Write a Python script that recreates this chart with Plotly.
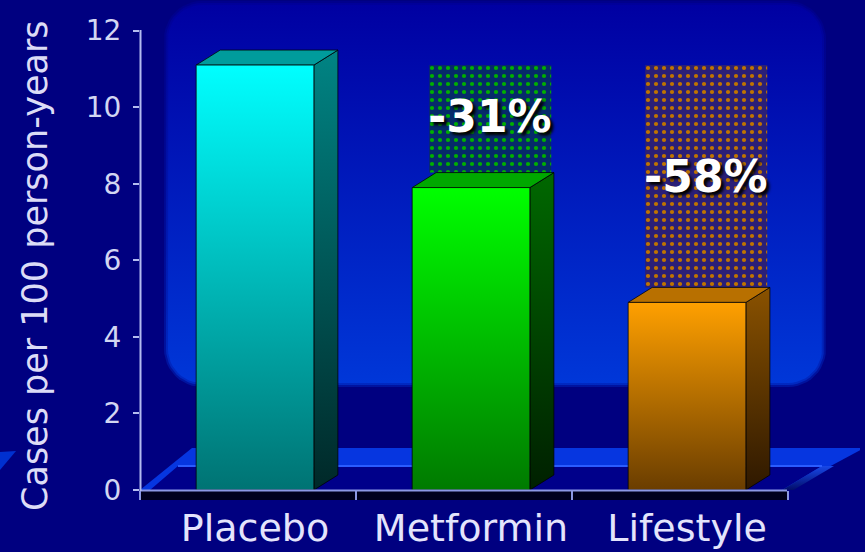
import math
import plotly.graph_objects as go

# ---------------- data ----------------
categories = ["Placebo", "Metformin", "Lifestyle"]
incidence = [11.1, 7.9, 4.9]          # cases per 100 person-years
reduction_labels = ["", "-31%", "-58%"]
y_ticks = [0, 2, 4, 6, 8, 10, 12]
y_title = "Cases per 100 person-years"

front_top = ["#00ffff", "#00ff00", "#ffa000"]
front_bottom = ["#007373", "#007a00", "#6a3d00"]
side_top = ["#008484", "#006800", "#8a5200"]
side_bottom = ["#002828", "#002000", "#2e1800"]
top_face = ["#009c9c", "#00a800", "#b87000"]
pattern_fg = ["#00a0a0", "#00b000", "#c07400"]
pattern_bg = ["#081a70", "#062a6a", "#2a1f78"]

# ---------------- layout constants ----------------
W, H = 865, 552
ML, MR, MT, MB = 140, 5, 0, 62
PW = W - ML - MR            # 720
PH = H - MT - MB            # 490
PX_PER_CAT = 216.0
YMAX = 12.8

BAR_OFF = -0.24
BAR_W = 0.545
DX = 24 / PX_PER_CAT
DY = 15 / (PH / YMAX)
PAT_SHIFT = 17 / PX_PER_CAT
PAT_W = 0.565

FONT = "DejaVu Sans"


def xp(px):
    return (px - ML) / PW


def yp(py):
    return (MT + PH - py) / PH


def dy(py):
    return MT + PH - py


fig = go.Figure()

# ---------------- decoration (pixel axes x/y) ----------------
def rounded_rect(x0, y0, x1, y1, r, n=12):
    pts = []
    corners = [(x1 - r, y0 + r, -90, 0), (x1 - r, y1 - r, 0, 90),
               (x0 + r, y1 - r, 90, 180), (x0 + r, y0 + r, 180, 270)]
    for cx, cy, a0, a1 in corners:
        for k in range(n + 1):
            a = math.radians(a0 + (a1 - a0) * k / n)
            pts.append((cx + r * math.cos(a), cy + r * math.sin(a)))
    pts.append(pts[0])
    return [p[0] for p in pts], [dy(p[1]) for p in pts]

for grow, op in [(4, 0.35), (2, 0.6), (0, 1.0)]:
    px_, py_ = rounded_rect(168 - grow, 5 - grow, 822 + grow, 383 + grow, 34 + grow)
    fig.add_trace(go.Scatter(
        x=px_, y=py_, mode="lines", fill="toself", line=dict(width=0),
        opacity=op, hoverinfo="skip",
        fillgradient=dict(type="vertical",
                          colorscale=[[0, "#0037d8"], [1, "#0000a2"]]),
        xaxis="x", yaxis="y"))

# floor
def poly(points, **kw):
    xs = [p[0] for p in points] + [points[0][0]]
    ys = [dy(p[1]) for p in points] + [dy(points[0][1])]
    fig.add_trace(go.Scatter(x=xs, y=ys, mode="lines", fill="toself",
                             hoverinfo="skip", xaxis="x", yaxis="y", **kw))

poly([(140, 490), (192, 448), (864, 448), (786, 490)],
     fillcolor="#0636e0", line=dict(width=0))
poly([(150, 490), (178, 466), (822, 466), (782, 490)],
     fillcolor="#00008a", line=dict(width=0))
poly([(782, 490), (822, 466), (834, 466), (790, 492)],
     line=dict(width=0),
     fillgradient=dict(type="vertical", colorscale=[[0, "#000860"], [1, "#1848e8"]]))
fig.add_trace(go.Scatter(x=[178, 822], y=[dy(466), dy(466)], mode="lines",
                         line=dict(color="#2a5cff", width=2), hoverinfo="skip",
                         xaxis="x", yaxis="y"))

# ---------------- bars (data axes x2/y2) ----------------
# ghost (patterned) boxes up to placebo level
for i in range(1, len(categories)):
    v = incidence[i]
    xl = i + BAR_OFF + PAT_SHIFT
    fig.add_trace(go.Bar(
        x=[xl + PAT_W / 2], y=[incidence[0] - (v + DY)], base=[v + DY],
        width=[PAT_W], hoverinfo="skip",
        marker=dict(color=pattern_bg[i], line=dict(width=0),
                    pattern=dict(shape=".", fgcolor=pattern_fg[i],
                                 bgcolor=pattern_bg[i], size=8, solidity=0.22,
                                 fillmode="replace")),
        xaxis="x2", yaxis="y2"))

edge = dict(color="rgba(0,0,0,0.75)", width=1)
for i, v in enumerate(incidence):
    xl = i + BAR_OFF
    xr = xl + BAR_W
    # side face
    fig.add_trace(go.Scatter(
        x=[xr, xr + DX, xr + DX, xr, xr], y=[0, DY, v + DY, v, 0],
        mode="lines", fill="toself", line=edge, hoverinfo="skip",
        fillgradient=dict(type="vertical",
                          colorscale=[[0, side_bottom[i]], [1, side_top[i]]]),
        xaxis="x2", yaxis="y2"))
    # top face
    fig.add_trace(go.Scatter(
        x=[xl, xl + DX, xr + DX, xr, xl], y=[v, v + DY, v + DY, v, v],
        mode="lines", fill="toself", line=edge, fillcolor=top_face[i],
        hoverinfo="skip", xaxis="x2", yaxis="y2"))
    # front face
    fig.add_trace(go.Scatter(
        x=[xl, xr, xr, xl, xl], y=[0, 0, v, v, 0],
        mode="lines", fill="toself", line=edge, hoverinfo="skip",
        fillgradient=dict(type="vertical",
                          colorscale=[[0, front_bottom[i]], [1, front_top[i]]]),
        xaxis="x2", yaxis="y2"))

# reduction labels
label_y = [None, 9.75, 8.2]
for i, txt in enumerate(reduction_labels):
    if not txt:
        continue
    fig.add_annotation(
        x=i + BAR_OFF + PAT_SHIFT + PAT_W / 2, y=label_y[i], xref="x2", yref="y2",
        text=txt, showarrow=False,
        font=dict(family=FONT, size=44, color="#ffffff", weight="bold",
                  shadow="3px 3px 3px #000000"))

# y-axis title
fig.add_annotation(
    x=xp(35), y=yp(266), xref="paper", yref="paper", text=y_title,
    textangle=-90, showarrow=False, xanchor="center", yanchor="middle",
    font=dict(family=FONT, size=35, color="#dcdcf6"))

# ---------------- paper shapes ----------------
shapes = [
    # shadow below floor front edge
    dict(type="rect", xref="paper", yref="paper", x0=xp(140), x1=xp(788),
         y0=yp(500), y1=yp(491), fillcolor="#00001c", line=dict(width=0),
         layer="below"),
    # x axis line
    dict(type="line", xref="paper", yref="paper", x0=xp(140), x1=xp(787),
         y0=yp(490.5), y1=yp(490.5), line=dict(color="#8c98e4", width=2),
         layer="above"),
    # y axis line
    dict(type="line", xref="paper", yref="paper", x0=xp(140.5), x1=xp(140.5),
         y0=yp(30), y1=yp(491), line=dict(color="#b4bcf0", width=2),
         layer="above"),
    # small blue wedge at bottom-left
    dict(type="path", xref="paper", yref="paper",
         path=f"M {xp(0)},{yp(452)} L {xp(16)},{yp(451)} L {xp(0)},{yp(470)} Z",
         fillcolor="#0030d0", line=dict(width=0), layer="below"),
]

fig.update_layout(
    width=W, height=H,
    margin=dict(l=ML, r=MR, t=MT, b=MB),
    paper_bgcolor="#000080", plot_bgcolor="rgba(0,0,0,0)",
    showlegend=False, barmode="overlay", shapes=shapes,
    xaxis=dict(range=[ML, ML + PW], visible=False, fixedrange=True),
    yaxis=dict(range=[0, PH], visible=False, fixedrange=True),
    xaxis2=dict(overlaying="x", anchor="y2",
                range=[-0.5, -0.5 + PW / PX_PER_CAT],
                tickmode="array",
                tickvals=[i + BAR_OFF + BAR_W / 2 for i in range(len(categories))],
                ticktext=categories, ticks="", showgrid=False, zeroline=False,
                showline=False, ticklabelstandoff=12,
                tickfont=dict(family=FONT, size=38, color="#e4e4fc"),
                minor=dict(tickmode="array",
                           tickvals=[i - 0.5 for i in range(len(categories) + 1)],
                           ticks="outside", ticklen=9, tickwidth=2,
                           tickcolor="#8c98e4", showgrid=False),
                fixedrange=True),
    yaxis2=dict(overlaying="y", anchor="x2", side="left",
                range=[0, YMAX], tickmode="array", tickvals=y_ticks,
                ticks="outside", ticklen=6, tickwidth=2, tickcolor="#b4bcf0",
                showgrid=False, zeroline=False, showline=False,
                ticklabelstandoff=6,
                tickfont=dict(family=FONT, size=28, color="#d2d6f2"),
                fixedrange=True),
)

fig.write_html("out.html")
